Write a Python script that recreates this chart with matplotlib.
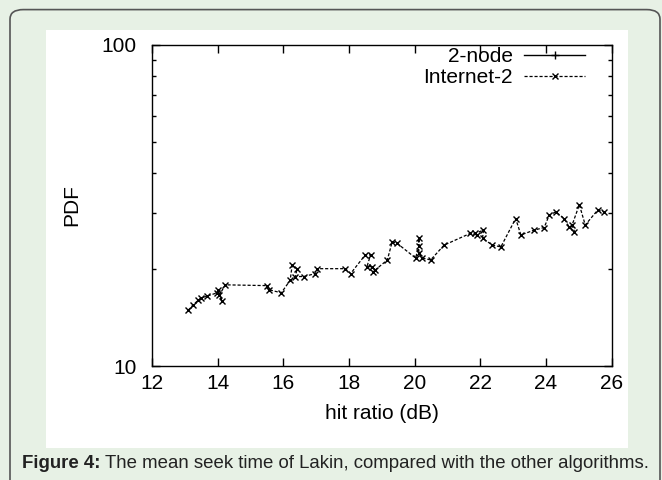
import matplotlib
matplotlib.use("Agg")
import matplotlib.pyplot as plt
from matplotlib.patches import FancyBboxPatch, Rectangle
from matplotlib.ticker import LogLocator, NullFormatter, FixedLocator

plt.rcParams["font.family"] = ["Liberation Sans", "DejaVu Sans"]

# series
node2_x = []
node2_y = []

internet2_x = [13.1, 13.25, 13.4, 13.5, 13.67, 13.98, 14.02, 14.13, 14.05, 14.23,
               15.5, 15.55, 15.94, 16.21, 16.27, 16.42, 16.37, 16.62, 16.98, 17.03,
               17.89, 18.05, 18.5, 18.66, 18.55, 18.7, 18.8, 18.72, 19.17, 19.32,
               19.47, 20.03, 20.13, 20.13, 20.13, 20.23, 20.49, 20.9, 21.7, 21.9,
               21.85, 22.1, 22.07, 22.37, 22.63, 23.08, 23.24, 23.64, 23.95, 24.1,
               24.3, 24.56, 24.7, 24.87, 24.8, 25.02, 25.2, 25.58, 25.78]
internet2_y = [14.9, 15.5, 16.0, 16.3, 16.5, 16.9, 17.2, 15.9, 16.6, 17.9,
               17.8, 17.3, 16.9, 18.5, 20.6, 20.1, 19.0, 19.0, 19.4, 20.1,
               20.1, 19.4, 22.2, 22.2, 20.4, 20.4, 19.9, 19.6, 21.4, 24.4,
               24.1, 21.7, 23.6, 25.0, 22.5, 21.7, 21.4, 23.8, 25.9, 25.6,
               25.9, 26.5, 25.0, 23.8, 23.5, 28.8, 25.6, 26.5, 27.0, 29.5,
               30.2, 28.8, 27.2, 26.2, 27.5, 31.8, 27.5, 30.6, 30.2]

x_ticks = [12, 14, 16, 18, 20, 22, 24, 26]

fs = 15

fig = plt.figure(figsize=(6.62, 4.8), dpi=100)
fig.patch.set_facecolor("#e7f1e5")

# rounded outer border and white panel
fig.patches.append(FancyBboxPatch((10 / 662, -0.05), 650 / 662, 1.03,
                                  boxstyle="round,pad=0,rounding_size=0.02",
                                  transform=fig.transFigure, facecolor="#e7f1e5",
                                  edgecolor="#555555", linewidth=1.2, zorder=-2))
fig.patches.append(Rectangle((46 / 662, 1 - 448 / 480), 582 / 662, 418 / 480,
                             transform=fig.transFigure, facecolor="white",
                             edgecolor="none", zorder=-1))

ax = fig.add_axes([152 / 662, 1 - 366 / 480, 459.5 / 662, 321 / 480])
ax.set_facecolor("white")

ax.plot(node2_x, node2_y, color="black", linewidth=1.0, marker="+",
        markersize=6, label="2-node")
ax.plot(internet2_x, internet2_y, color="black", linewidth=0.9, linestyle=(0, (2.5, 1.5)),
        marker="x", markersize=4.5, markeredgewidth=1.0, label="Internet-2")

ax.set_yscale("log")
ax.set_xlim(12, 26)
ax.set_ylim(10, 100)
ax.xaxis.set_major_locator(FixedLocator(x_ticks))
ax.set_yticks([10, 100])
ax.set_yticklabels(["10", "100"])
ax.yaxis.set_minor_locator(LogLocator(base=10, subs=range(2, 10)))
ax.yaxis.set_minor_formatter(NullFormatter())

ax.tick_params(which="both", direction="in", top=True, right=True, labelsize=fs,
               width=1.0)
ax.tick_params(which="major", length=6)
ax.tick_params(axis="x", which="major", pad=6)
ax.tick_params(axis="y", which="major", pad=11)
ax.tick_params(which="minor", length=3)
for s in ax.spines.values():
    s.set_linewidth(1.0)

ax.set_xlabel("hit ratio (dB)", fontsize=fs, labelpad=8)
ax.set_ylabel("PDF", fontsize=fs, labelpad=15)

ax.legend(loc="upper right", bbox_to_anchor=(0.942, 0.994), frameon=False,
          markerfirst=False, fontsize=fs, handlelength=2.9, borderaxespad=0,
          borderpad=0, labelspacing=0.1, handletextpad=0.55, numpoints=1)

cap_y = 1 - 463 / 480
t1 = fig.text(22 / 662, cap_y, "Figure 4:", fontsize=13.4, fontweight="bold",
              va="center", ha="left", color="#222222")
fig.canvas.draw()
bb = t1.get_window_extent()
fig.text(bb.x1 / 662 + 4 / 662, cap_y,
         "The mean seek time of Lakin, compared with the other algorithms.",
         fontsize=13.4, va="center", ha="left", color="#222222")

fig.savefig("out.png", dpi=100, facecolor=fig.get_facecolor())
